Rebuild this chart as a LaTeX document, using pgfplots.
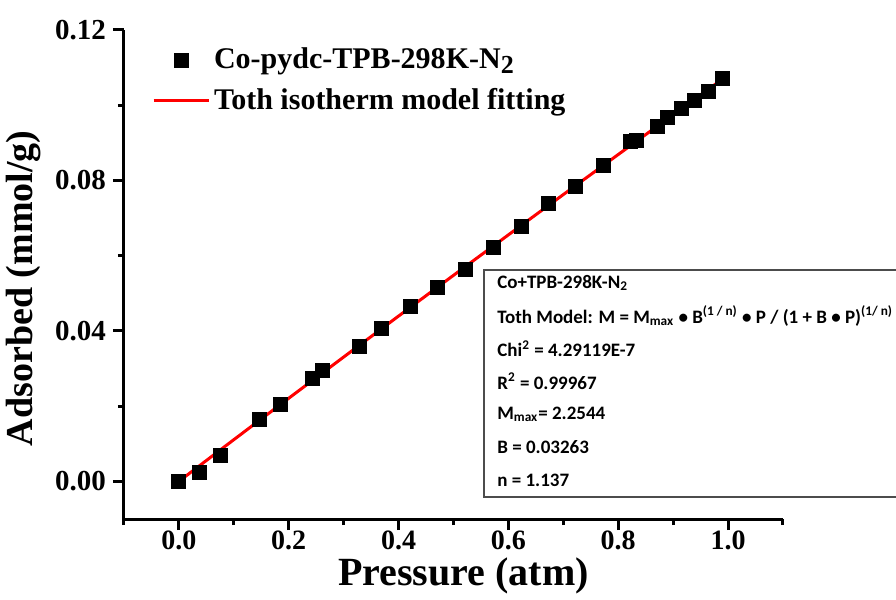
\documentclass[border=0pt]{standalone}
\usepackage{fontspec}
\setmainfont{Liberation Serif}
\newfontfamily\boxfont{Carlito}
\usepackage{pgfplots}
\pgfplotsset{compat=1.18}
\pgfplotsset{
  sqlegend/.style={legend image code/.code={\draw[mark repeat=2,mark phase=2,##1] plot coordinates {(0pt,0pt)(13.75pt,0pt)(27.5pt,0pt)};}},
  lnlegend/.style={legend image code/.code={\draw[##1] (0pt,0pt) -- (27.5pt,0pt);}},
}
\begin{document}
\begin{tikzpicture}
\begin{axis}[
  scale only axis, width=329.5pt, height=244.5pt,
  xmin=-0.1, xmax=1.1, ymin=-0.01, ymax=0.12,
  axis lines*=left, axis line style={line width=1.5pt},
  every tick/.style={black, line width=1.5pt},
  tick align=outside, major tick length=5.5pt, minor tick length=3pt,
  xtick={0,0.2,0.4,0.6,0.8,1.0}, minor xtick={-0.1,0.1,0.3,0.5,0.7,0.9,1.1},
  ytick={0,0.04,0.08,0.12}, minor ytick={0.02,0.06,0.1},
  scaled ticks=false,
  xticklabel style={font=\bfseries\fontsize{14}{16}\selectfont, yshift=3pt,
    /pgf/number format/.cd, fixed, fixed zerofill, precision=1},
  yticklabel style={font=\bfseries\fontsize{14.5}{16}\selectfont,
    /pgf/number format/.cd, fixed, fixed zerofill, precision=2},
  /pgf/number format/assume math mode=true,
  xlabel style={font=\bfseries\fontsize{20}{22}\selectfont, xshift=5pt, yshift=3pt},
  ylabel style={font=\bfseries\fontsize{19}{22}\selectfont, at={(ticklabel cs:0.472)}},
  xlabel={Pressure (atm)}, ylabel={Adsorbed (mmol/g)},
  legend style={at={(rel axis cs:0.033,0.98)}, anchor=north west, draw=none, fill=none,
    font=\bfseries\fontsize{15}{18}\selectfont, row sep=4pt},
  legend cell align=left,
  clip=false,
]
\addplot[only marks, mark=square*, mark size=3.5pt, black, sqlegend]
 coordinates {
(0,0) (0.038,0.0023) (0.075,0.0068) (0.147,0.0164) (0.185,0.0206)
(0.244,0.0273) (0.262,0.0294) (0.329,0.0358) (0.369,0.0408) (0.422,0.0464)
(0.471,0.0515) (0.522,0.0563) (0.573,0.0621) (0.624,0.0677) (0.673,0.0740)
(0.722,0.0783) (0.773,0.0839) (0.822,0.0905) (0.833,0.0906) (0.871,0.0943)
(0.889,0.0968) (0.915,0.0991) (0.938,0.1014) (0.964,0.1036) (0.989,0.1071)};
\addlegendentry{Co-pydc-TPB-298K-N\raisebox{-0.35ex}{\fontsize{13}{14}\selectfont 2}}
\addplot[red, line width=1.5pt, lnlegend]
 coordinates {
(0,0) (0.1,0.01108) (0.2,0.02209) (0.3,0.03305) (0.4,0.04394) (0.5,0.05477)
(0.6,0.06553) (0.7,0.07624) (0.8,0.08689) (0.9,0.09748) (0.99,0.10696)};
\addlegendentry{Toth isotherm model fitting}
\draw[black!70, line width=0.7pt] (rel axis cs:0.5463,0.045) rectangle (rel axis cs:1.3,0.5092);
\begin{scope}[every node/.style={anchor=west, inner sep=0pt, font=\boxfont\bfseries\fontsize{9.5}{11}\selectfont}]
\node at (rel axis cs:0.566,0.4826) {Co+TPB-298K-N\textsubscript{2}};
\node at (rel axis cs:0.566,0.4155) {Toth Model: M = M\textsubscript{max} • B\textsuperscript{(1 / n)} • P / (1 + B • P)\textsuperscript{(1/ n)}};
\node at (rel axis cs:0.566,0.3484) {Chi\textsuperscript{2} = 4.29119E-7};
\node at (rel axis cs:0.566,0.2813) {R\textsuperscript{2} = 0.99967};
\node at (rel axis cs:0.566,0.2142) {M\textsubscript{max}= 2.2544};
\node at (rel axis cs:0.566,0.1471) {B = 0.03263};
\node at (rel axis cs:0.566,0.0800) {n = 1.137};
\end{scope}
\coordinate (bbsw) at (rel axis cs:-0.188,-0.1636);
\coordinate (bbne) at (rel axis cs:1.1715,1.0613);
\end{axis}
\pgfresetboundingbox
\path[use as bounding box] (bbsw) rectangle (bbne);
\end{tikzpicture}
\end{document}
